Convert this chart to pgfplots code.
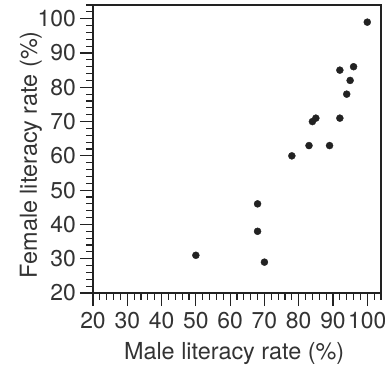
\documentclass[border=0pt]{standalone}
\usepackage{fontspec}
\setmainfont{TeX Gyre Heros}
\usepackage{pgfplots}
\pgfplotsset{compat=1.18}
\definecolor{ink}{HTML}{222222}
\definecolor{txt}{HTML}{333333}
\begin{document}
\begin{tikzpicture}
\begin{axis}[
  at={(0,0)}, anchor=south west,
  width=288bp, height=288bp, scale only axis,
  xmin=20, xmax=104, ymin=20, ymax=104,
  axis line style={line width=2.4bp, color=ink},
  xtick={20,30,...,100}, ytick={20,30,...,100},
  minor xtick={20,22,...,104}, minor ytick={20,22,...,104},
  xtick pos=bottom, ytick pos=left,
  tick align=outside,
  major tick length=13bp, minor tick length=6.5bp,
  every tick/.style={line width=1.2bp, color=ink},
  /pgf/number format/assume math mode=true,
  ticklabel style={font=\fontsize{23}{23}\selectfont, text=txt},
  xticklabel style={anchor=base, inner sep=0pt, yshift=-22bp},
  yticklabel style={anchor=east, inner sep=0pt, xshift=-4bp},
  xlabel={Male literacy rate (\%)},
  ylabel={Female literacy rate (\%)},
  label style={font=\fontsize{23.5}{23.5}\selectfont, text=txt},
  xlabel style={at={(axis description cs:0.49,-0.2326)}, anchor=base},
  ylabel style={at={(axis description cs:-0.195,0.48)}, anchor=base, rotate=0},
  clip=false,
]
% literacy rates by country: male (x) vs female (y)
\addplot[only marks, mark=*, mark size=3.5bp, color=ink] coordinates {
  (50,31) (68,46) (68,38) (70,29) (78,60) (83,63) (89,63)
  (84,70) (85,71) (92,71) (94,78) (95,82) (92,85) (96,86) (100,99)
};
\end{axis}
\pgfresetboundingbox
\path[use as bounding box] (-93bp,-75bp) rectangle (292bp,293bp);
\end{tikzpicture}
\end{document}
